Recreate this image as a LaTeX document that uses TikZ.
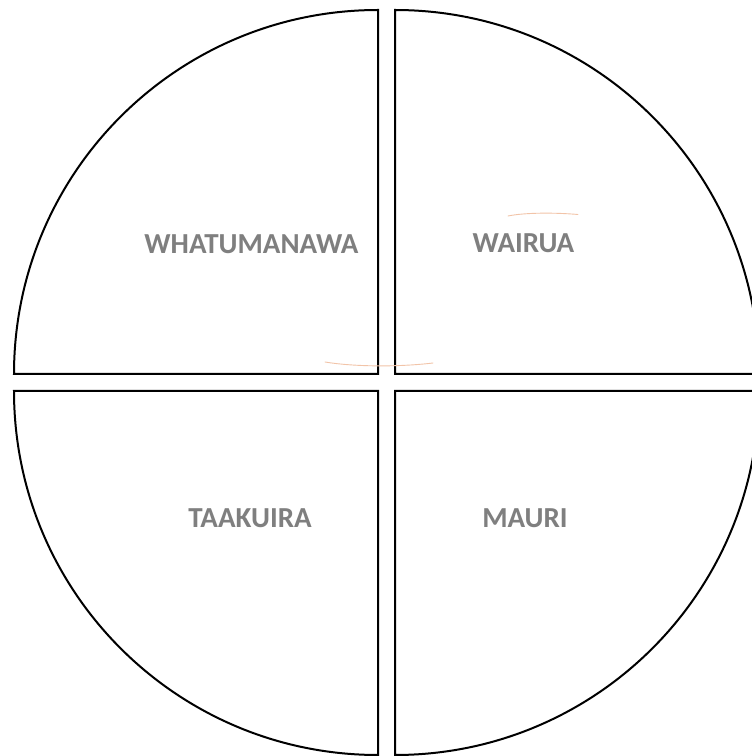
\documentclass[tikz,border=0pt]{standalone}
\usepackage{fontspec}
\setmainfont{Carlito}
\definecolor{labelgray}{HTML}{7F7F7F}
\definecolor{faintorange}{HTML}{F2C4A8}
\begin{document}
\begin{tikzpicture}[x=1pt,y=1pt,
  quad/.style={draw=black,line width=2pt,fill=white},
  lbl/.style={font=\fontsize{29}{33}\selectfont\bfseries,text=labelgray,anchor=base,inner sep=0pt},
  faint/.style={draw=faintorange,line width=0.9pt,line cap=round}]
\useasboundingbox (0,0) rectangle (752,756);
\clip (0,0) rectangle (752,756);
\fill[white] (0,0) rectangle (752,756);
% quadrants
\path[quad] (378,382) -- (14,382) arc[start angle=180,end angle=90,radius=364] -- cycle;
\path[quad] (395,382) -- (395,746) arc[start angle=90,end angle=0,radius=364] -- cycle;
\path[quad] (378,365) -- (378,1) arc[start angle=270,end angle=180,radius=364] -- cycle;
\path[quad] (395,365) -- (759,365) arc[start angle=0,end angle=-90,radius=364] -- cycle;
% faint strokes
\coordinate (f1a) at (325,394);
\coordinate (f1b) at (433,393);
\coordinate (f2a) at (508,540);
\coordinate (f2b) at (578,541.5);
\draw[faint] (f1a) .. controls (355,389) and (400,389) .. (f1b);
\draw[faint] (f2a) .. controls (525,543.5) and (555,543.5) .. (f2b);
% labels
\node[lbl] (whatu) at (251.5,502) {WHATUMANAWA};
\node[lbl] (wairua) at (523.5,503) {WAIRUA};
\node[lbl] (taak) at (250,228) {TAAKUIRA};
\node[lbl] (mauri) at (525,228) {MAURI};
\end{tikzpicture}
\end{document}
